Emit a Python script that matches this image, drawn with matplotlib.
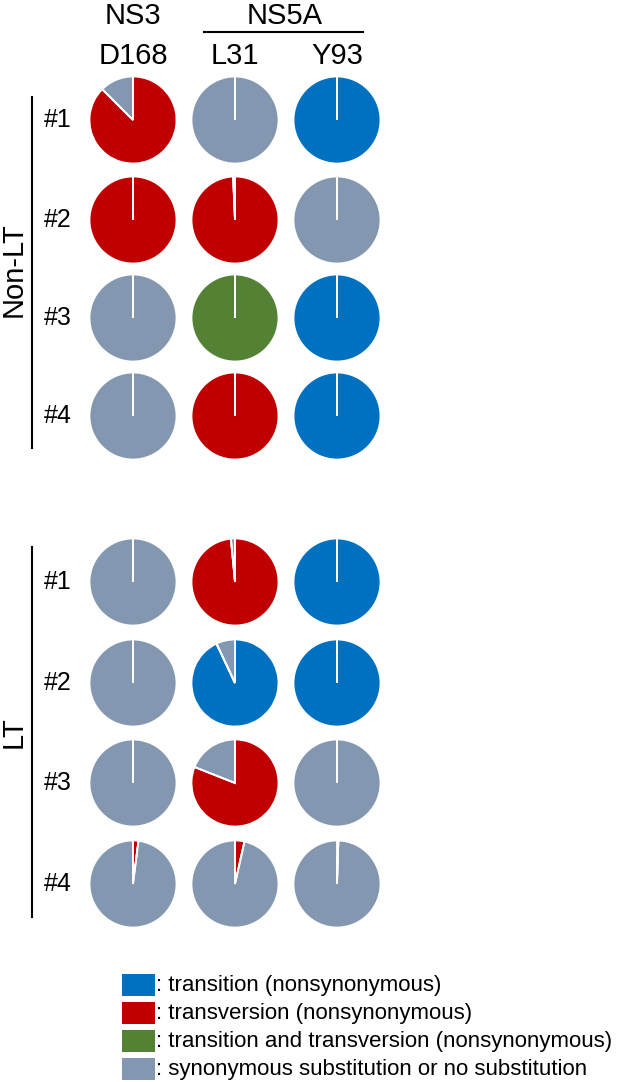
import matplotlib
matplotlib.use("Agg")
import matplotlib.pyplot as plt
from matplotlib.patches import Rectangle

plt.rcParams['font.family'] = ['Liberation Sans', 'DejaVu Sans']

# Data: share of reads per category, order = transition, transversion, both, synonymous/none
cols = ['D168', 'L31', 'Y93']
row_labels = ['#1', '#2', '#3', '#4']
groups = ['Non-LT', 'LT']

non_lt = [
    [[0, 87.5, 0, 12.5], [0, 0, 0, 100], [100, 0, 0, 0]],
    [[0, 100, 0, 0], [0, 99.3, 0, 0.7], [0, 0, 0, 100]],
    [[0, 0, 0, 100], [0, 0, 100, 0], [100, 0, 0, 0]],
    [[0, 0, 0, 100], [0, 100, 0, 0], [100, 0, 0, 0]],
]
lt = [
    [[0, 0, 0, 100], [0, 98.5, 0, 1.5], [100, 0, 0, 0]],
    [[0, 0, 0, 100], [93, 0, 0, 7], [100, 0, 0, 0]],
    [[0, 0, 0, 100], [0, 81, 0, 19], [0, 0, 0, 100]],
    [[0, 2, 0, 98], [0, 3.5, 0, 96.5], [0.5, 0, 0, 99.5]],
]

colors = ['#0070C0', '#C00000', '#548235', '#8497B0']
legend_labels = [': transition (nonsynonymous)',
                 ': transversion (nonsynonymous)',
                 ': transition and transversion (nonsynonymous)',
                 ': synonymous substitution or no substitution']

W, H = 629, 1082
fig = plt.figure(figsize=(W / 100, H / 100), dpi=100)
ax = fig.add_axes([0, 0, 1, 1])

def Y(y):  # pixel row from top -> data y
    return H - y

col_x = [133, 235, 337]
row_y = {'Non-LT': [120, 220, 318, 416], 'LT': [582, 683, 783, 884]}
r = 43.5

for g, data in zip(groups, [non_lt, lt]):
    for i, row in enumerate(data):
        for j, vals in enumerate(row):
            wedges, _ = ax.pie(vals, colors=colors, startangle=90, counterclock=False,
                               center=(col_x[j], Y(row_y[g][i])), radius=r,
                               wedgeprops=dict(edgecolor='white', linewidth=1.3),
                               frame=True)
            # empty slices show as the thin white seam at 12 o'clock
            for w, v in zip(wedges, vals):
                if v == 0:
                    w.set_zorder(3)
        ax.text(58, Y(row_y[g][i]), row_labels[i], fontsize=18,
                ha='center', va='center')

ax.set_xlim(0, W)
ax.set_ylim(0, H)
ax.set_aspect('equal')
ax.axis('off')

# group brackets
ax.plot([32, 32], [Y(97), Y(448)], color='black', lw=1.5)
ax.plot([32, 32], [Y(547), Y(917)], color='black', lw=1.5)
ax.text(14, Y(270), 'Non-LT', rotation=90, fontsize=21, ha='center', va='center')
ax.text(14, Y(732), 'LT', rotation=90, fontsize=21, ha='center', va='center')

# headers
ax.text(133, Y(16), 'NS3', fontsize=21, ha='center', va='center')
ax.text(285, Y(16), 'NS5A', fontsize=21, ha='center', va='center')
ax.plot([204, 363], [Y(32), Y(32)], color='black', lw=1.5)
for x, c in zip(col_x, cols):
    ax.text(x, Y(56), c, fontsize=21, ha='center', va='center')

# legend
leg_y = [985, 1013, 1041, 1069]
for c, lab, y in zip(colors, legend_labels, leg_y):
    ax.add_patch(Rectangle((122, Y(y) - 11), 33, 22, facecolor=c, edgecolor='none'))
    ax.text(156, Y(y), lab, fontsize=16, ha='left', va='center')

fig.savefig('out.png', dpi=100)
